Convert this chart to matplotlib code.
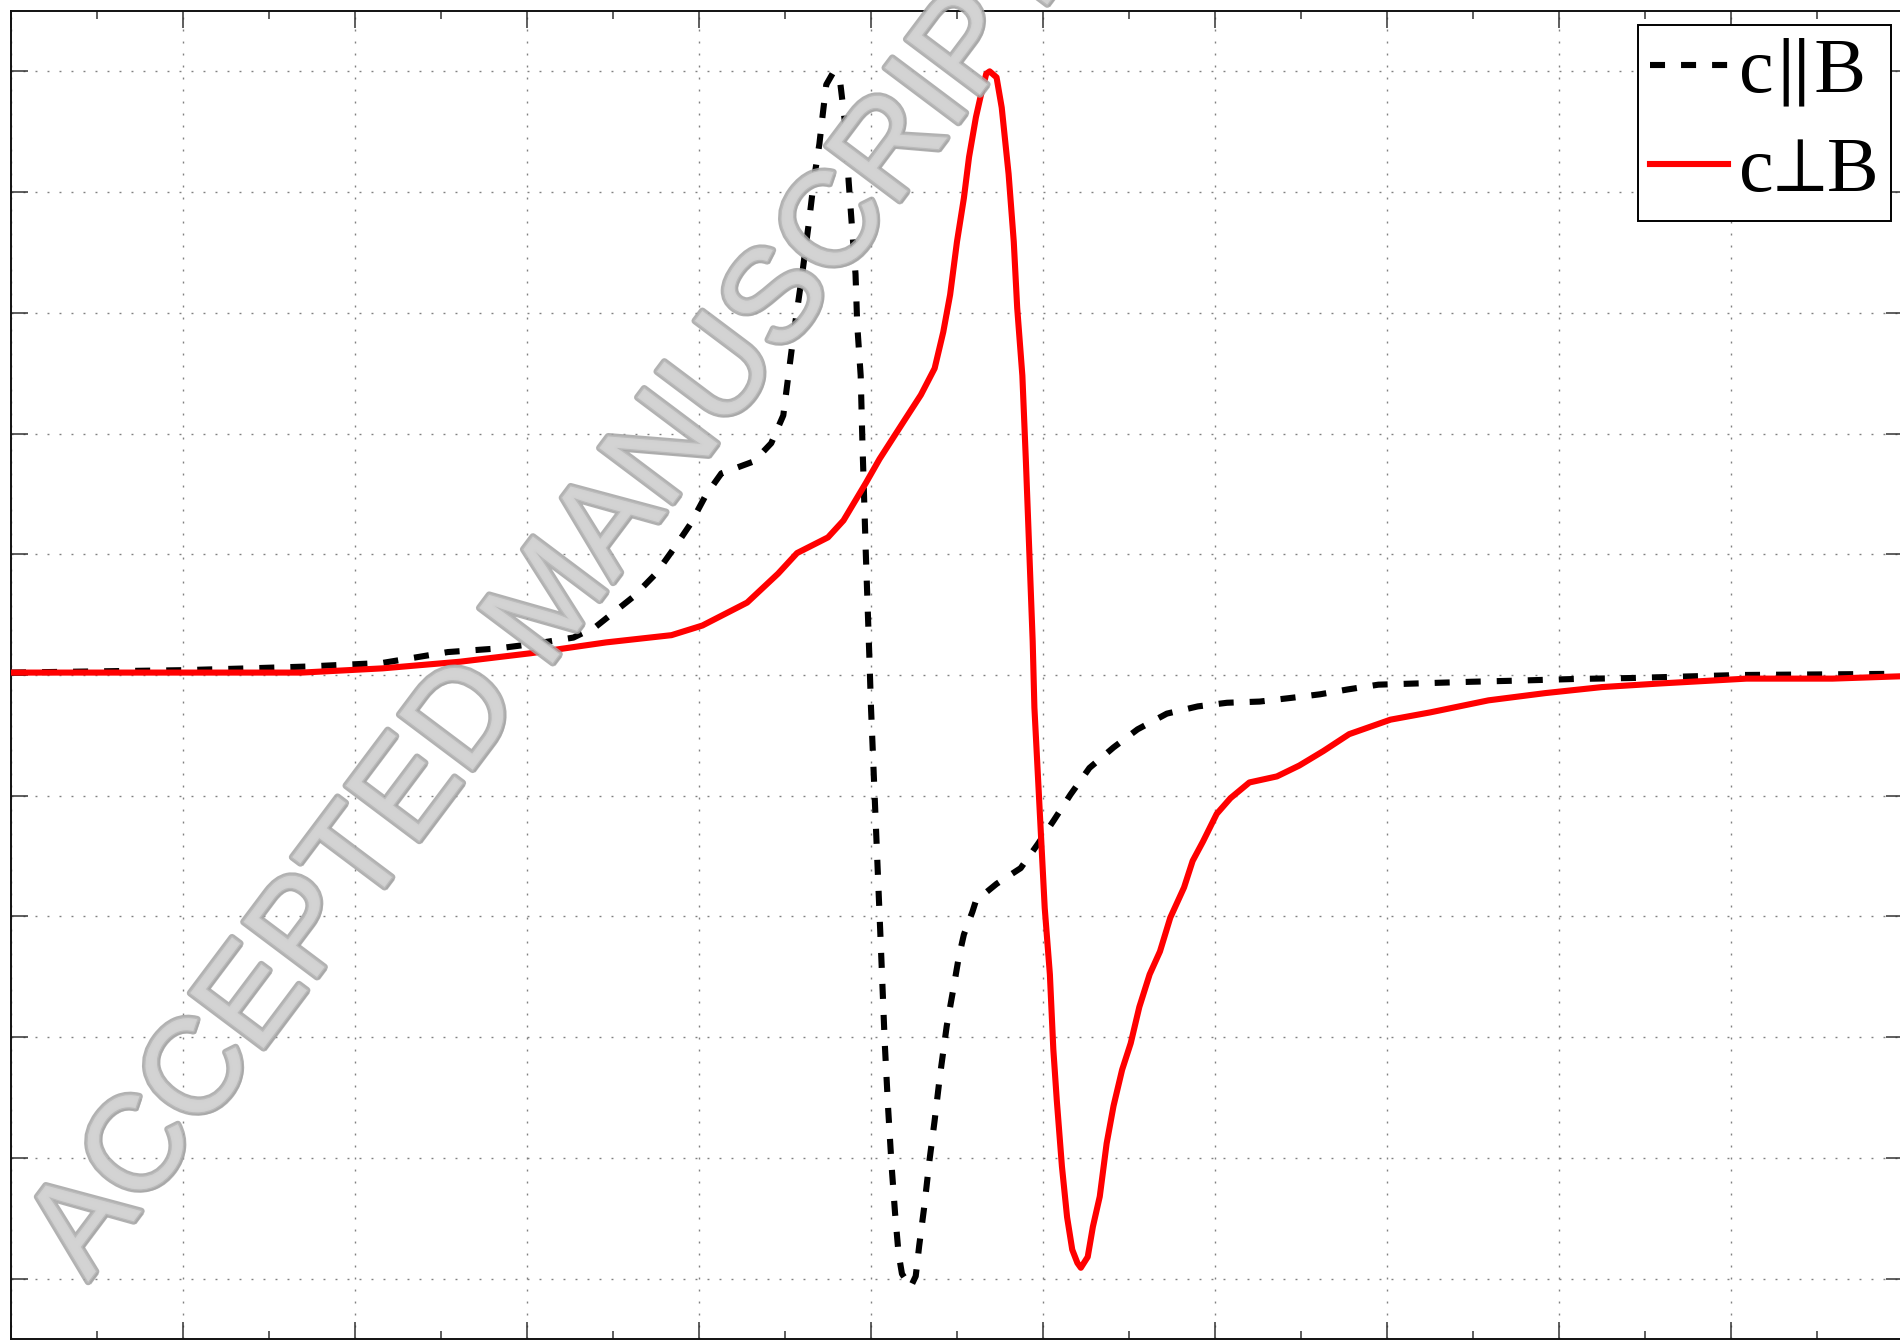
import matplotlib
matplotlib.use("Agg")
import matplotlib.pyplot as plt
import matplotlib.patheffects as pe
from matplotlib import font_manager
import numpy as np

# ---- data (axis units: x 0..11, y -5.5..5.5) ----
par_x = [0.0, 1.0, 1.38, 1.72, 2.16, 2.54, 2.83, 3.05, 3.27, 3.40, 3.62, 3.75, 3.86, 3.95,
         4.04, 4.13, 4.32, 4.42, 4.49, 4.55, 4.60, 4.64, 4.67, 4.70, 4.72, 4.74, 4.78, 4.82,
         4.85, 4.87, 4.89, 4.91, 4.92, 4.94, 4.95, 4.97, 4.99, 5.00, 5.02, 5.04, 5.06, 5.08,
         5.10, 5.12, 5.14, 5.16, 5.18, 5.23, 5.26, 5.28, 5.31, 5.34, 5.37, 5.40, 5.44, 5.48,
         5.51, 5.54, 5.59, 5.61, 5.73, 5.87, 5.97, 6.06, 6.16, 6.27, 6.41, 6.55, 6.72, 6.90,
         7.07, 7.26, 7.44, 7.61, 7.77, 7.95, 8.49, 8.75, 9.09, 9.42, 10.05, 11.0]
par_y = [0.02, 0.04, 0.055, 0.07, 0.10, 0.19, 0.22, 0.26, 0.31, 0.40, 0.65, 0.84, 1.06, 1.25,
         1.49, 1.67, 1.77, 1.92, 2.15, 2.82, 3.32, 3.76, 4.12, 4.40, 4.65, 4.89, 4.99, 4.92,
         4.56, 4.09, 3.70, 3.32, 2.90, 2.48, 1.93, 1.00, 0.17, -0.27, -0.96, -1.65, -2.34, -3.05,
         -3.60, -4.07, -4.46, -4.79, -4.96, -5.07, -4.98, -4.73, -4.40, -4.02, -3.69, -3.33, -2.91, -2.59,
         -2.34, -2.15, -1.96, -1.87, -1.73, -1.60, -1.40, -1.21, -0.99, -0.77, -0.60, -0.45, -0.32, -0.26,
         -0.23, -0.22, -0.19, -0.16, -0.12, -0.08, -0.056, -0.047, -0.033, -0.025, 0.0, 0.01]

perp_x = [0.0, 1.69, 2.16, 2.61, 3.02, 3.46, 3.84, 4.02, 4.28, 4.46, 4.57, 4.75, 4.84, 4.97,
          5.05, 5.19, 5.29, 5.37, 5.42, 5.46, 5.50, 5.54, 5.57, 5.61, 5.64, 5.67, 5.69, 5.73,
          5.76, 5.80, 5.83, 5.85, 5.88, 5.90, 5.94, 5.95, 5.98, 6.01, 6.04, 6.06, 6.08, 6.11,
          6.14, 6.17, 6.20, 6.22, 6.26, 6.29, 6.33, 6.37, 6.41, 6.46, 6.51, 6.56, 6.62, 6.68,
          6.74, 6.82, 6.87, 6.93, 7.01, 7.09, 7.20, 7.36, 7.49, 7.63, 7.78, 8.02, 8.25, 8.59,
          8.92, 9.25, 9.59, 10.09, 10.59, 11.0]
perp_y = [0.02, 0.02, 0.055, 0.11, 0.18, 0.27, 0.33, 0.41, 0.60, 0.84, 1.01, 1.14, 1.28, 1.59,
          1.79, 2.10, 2.32, 2.54, 2.84, 3.15, 3.59, 3.95, 4.29, 4.62, 4.81, 4.98, 5.00, 4.95,
          4.70, 4.15, 3.59, 3.04, 2.48, 1.79, 0.28, -0.27, -1.10, -1.93, -2.48, -3.10, -3.52, -4.07,
          -4.49, -4.76, -4.87, -4.91, -4.82, -4.57, -4.32, -3.88, -3.57, -3.27, -3.05, -2.75, -2.48, -2.29,
          -2.01, -1.76, -1.54, -1.38, -1.15, -1.02, -0.89, -0.84, -0.75, -0.63, -0.49, -0.37, -0.31, -0.21,
          -0.15, -0.10, -0.07, -0.03, -0.03, -0.01]

labels = ["c\u2225B", "c\u22a5B"]
x_major = list(range(0, 12))
x_minor = [i + 0.5 for i in range(0, 11)]
y_major = list(range(-5, 6))
watermark = "ACCEPTED MANUSCRIPT"

# ---- figure ----
W, H = 1900, 1340
fig = plt.figure(figsize=(W / 100, H / 100), dpi=100)
ax = fig.add_axes([11 / W, 1 / H, 1892 / W, 1328 / H])
ax.set_xlim(0, 11)
ax.set_ylim(-5.5, 5.5)

lw = 4.4
ax.plot(par_x, par_y, color="black", lw=lw, linestyle=(0, (2.46, 2.62)), label=labels[0], zorder=3)
ax.plot(perp_x, perp_y, color="#ff0000", lw=lw, linestyle="-", label=labels[1], zorder=3)

ax.set_xticks(x_major)
ax.set_xticks(x_minor, minor=True)
ax.set_yticks(y_major)
ax.set_xticklabels([])
ax.set_yticklabels([])
ax.tick_params(which="both", direction="in", top=True, right=True, color="#333333")
ax.tick_params(which="major", length=12.5, width=1.1)
ax.tick_params(which="minor", length=5.8, width=1.1)
ax.grid(True, which="major", color="#808080", lw=1.0, linestyle=(0, (1.4, 7.24)))
ax.set_axisbelow(True)
for s in ax.spines.values():
    s.set_linewidth(1.4)
    s.set_color("#111111")

leg = ax.legend(loc="upper right", bbox_to_anchor=(1891 / W, 1 - 25 / H),
                bbox_transform=fig.transFigure, borderaxespad=0,
                prop={"family": ["Liberation Serif", "STIXGeneral", "DejaVu Serif"], "size": 56},
                handlelength=1.0, handletextpad=0.14, labelspacing=0.36,
                borderpad=0.16, fancybox=False, framealpha=1, edgecolor="black")
leg.get_frame().set_linewidth(1.4)
leg.set_zorder(5)

# ---- watermark ----
try:
    font_manager.findfont("Liberation Sans Narrow", fallback_to_default=False)
    wm_family, wm_size = "Liberation Sans Narrow", 116
except Exception:
    wm_family, wm_size = "Liberation Sans", 96
fig.text(88 / W, 1 - 1282 / H, watermark, rotation=53.1, rotation_mode="anchor",
         ha="left", va="baseline", family=wm_family, fontsize=wm_size,
         color="#d4d4d4", alpha=0.85, zorder=10,
         path_effects=[pe.withSimplePatchShadow(offset=(2, -2), shadow_rgbFace="#8a8a8a", alpha=0.5),
                       pe.Stroke(linewidth=5, foreground="#a4a4a4"),
                       pe.Stroke(linewidth=2, foreground="#bdbdbd"),
                       pe.Normal()])

fig.savefig("out.png", dpi=100)
